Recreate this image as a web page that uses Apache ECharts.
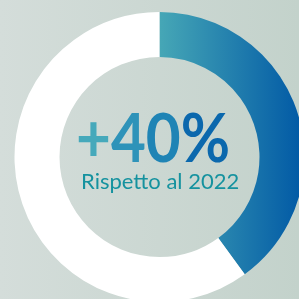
<!DOCTYPE html>
<html>
<head>
<meta charset="utf-8">
<script src="https://cdn.jsdelivr.net/npm/echarts@6/dist/echarts.min.js"></script>
<style>
  html, body { margin: 0; padding: 0; }
  #chart { width: 299px; height: 299px; }
</style>
</head>
<body>
<div id="chart"></div>
<script>
// dati
var categories = ['Crescita', 'Resto'];
var values = [40, 60];
var headline = '+40%';
var subtitle = 'Rispetto al 2022';

(function () {
    var myChart = echarts.init(document.getElementById('chart'));

    var blueGrad = new echarts.graphic.LinearGradient(0, 0, 1, 0, [
        { offset: 0, color: '#46a7b6' },
        { offset: 1, color: '#0058a5' }
    ]);

    // niente gradienti sul testo in zrender: un colore per carattere, dal teal al blu
    var headFont = 'bold 66px Lato, "Noto Sans", sans-serif';
    var headColors = ['#46a9bb', '#2e93b9', '#1f84b5', '#0b68ad'];
    var rich = {};
    var richText = '';
    headline.split('').forEach(function (ch, i) {
        rich['c' + i] = { font: headFont, fill: headColors[i] };
        richText += '{c' + i + '|' + ch + '}';
    });
    var ctx = document.createElement('canvas').getContext('2d');
    ctx.font = headFont;
    var headW = ctx.measureText(headline).width;

    var option = {
        backgroundColor: new echarts.graphic.LinearGradient(0, 0, 1, 0, [
            { offset: 0, color: '#d4ddda' },
            { offset: 1, color: '#c3d2cb' }
        ]),
        animation: false,
        graphic: [
            {
                type: 'text',
                x: 76,
                y: 108,
                scaleX: 154 / headW,
                z: 10,
                style: {
                    text: richText,
                    font: headFont,
                    fill: headColors[1],
                    rich: rich
                }
            },
            {
                type: 'text',
                x: 81,
                y: 171,
                style: {
                    text: subtitle,
                    font: '22px Lato, "Noto Sans", sans-serif',
                    fill: '#15929f'
                }
            }
        ],
        series: [
            {
                type: 'pie',
                center: [159.5, 157],
                radius: [100, 145],
                startAngle: 90,
                clockwise: true,
                silent: true,
                label: { show: false },
                labelLine: { show: false },
                itemStyle: { borderWidth: 0 },
                data: categories.map(function (name, i) {
                    return {
                        name: name,
                        value: values[i],
                        itemStyle: { color: i === 0 ? blueGrad : '#ffffff' }
                    };
                })
            }
        ]
    };
    myChart.setOption(option);

    window.addEventListener('resize', function () {
        myChart.resize();
    });
})();
</script>
</body>
</html>
